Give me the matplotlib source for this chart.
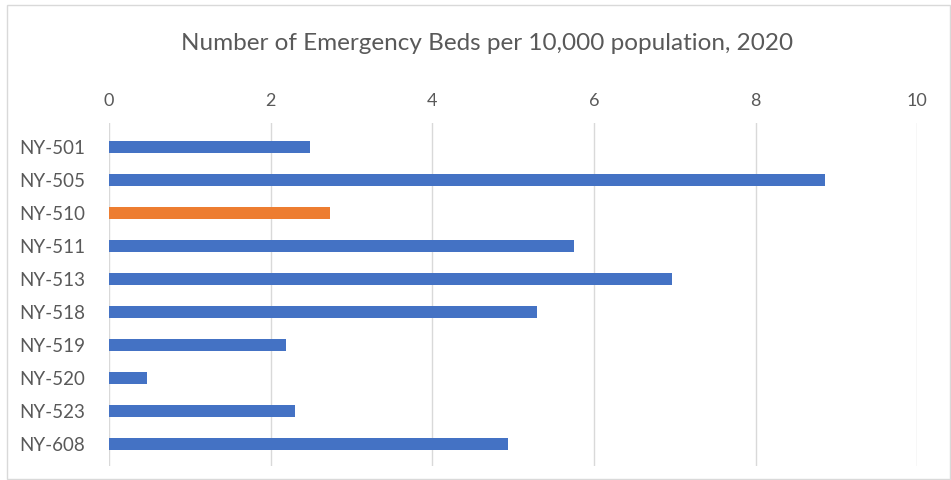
import matplotlib
matplotlib.use("Agg")
import matplotlib.pyplot as plt
from matplotlib.patches import Rectangle

# Emergency beds per 10,000 population by Continuum of Care, 2020
regions = ["NY-501", "NY-505", "NY-510", "NY-511", "NY-513",
           "NY-518", "NY-519", "NY-520", "NY-523", "NY-608"]
beds_per_10k = [2.49, 8.86, 2.74, 5.75, 6.96, 5.29, 2.19, 0.47, 2.30, 4.94]
highlight = "NY-510"
x_ticks = [0, 2, 4, 6, 8, 10]

BLUE = "#4472C4"
ORANGE = "#ED7D31"
GRID = "#D9D9D9"
TEXT = "#595959"

plt.rcParams["font.family"] = ["Lato", "DejaVu Sans"]

W, H = 951, 480
fig = plt.figure(figsize=(W / 100, H / 100), dpi=100)

# light chart-area frame
fig.patches.append(Rectangle((7 / W, 1 / H), 943 / W, 474 / H,
                             transform=fig.transFigure, fill=False,
                             edgecolor="#D9D9D9", linewidth=1.0))

# plot area in pixels: left, right, top, bottom
left, right, top, bottom = 109, 917.3, 123, 466
ax = fig.add_axes([left / W, 1 - bottom / H, (right - left) / W, (bottom - top) / H])

colors = [ORANGE if r == highlight else BLUE for r in regions]
ypos = list(range(len(regions)))
ax.barh(ypos, beds_per_10k, height=0.37, color=colors, zorder=3)

# category bands are 33 px; gridlines run a little past the first and last band
band = 33.0
ax.set_xlim(0, 10)
ax.set_ylim(len(regions) - 0.5 + (bottom - 460.5) / band, -0.5 - (130.8 - top) / band)
ax.set_xticks(x_ticks)
ax.set_xticklabels([str(t) for t in x_ticks])
ax.set_yticks(ypos)
ax.set_yticklabels(regions)

ax.xaxis.tick_top()
ax.tick_params(axis="x", length=0, pad=10, labelsize=13, labelcolor=TEXT)
ax.tick_params(axis="y", length=0, pad=17, labelsize=13.5, labelcolor=TEXT)

ax.grid(axis="x", color=GRID, linewidth=1.0, zorder=0)
for s in ax.spines.values():
    s.set_visible(False)

fig.text(487 / W, 1 - 43 / H, "Number of Emergency Beds per 10,000 population, 2020",
         ha="center", va="center", fontsize=17.5, color=TEXT)

fig.savefig("out.png", dpi=100)
